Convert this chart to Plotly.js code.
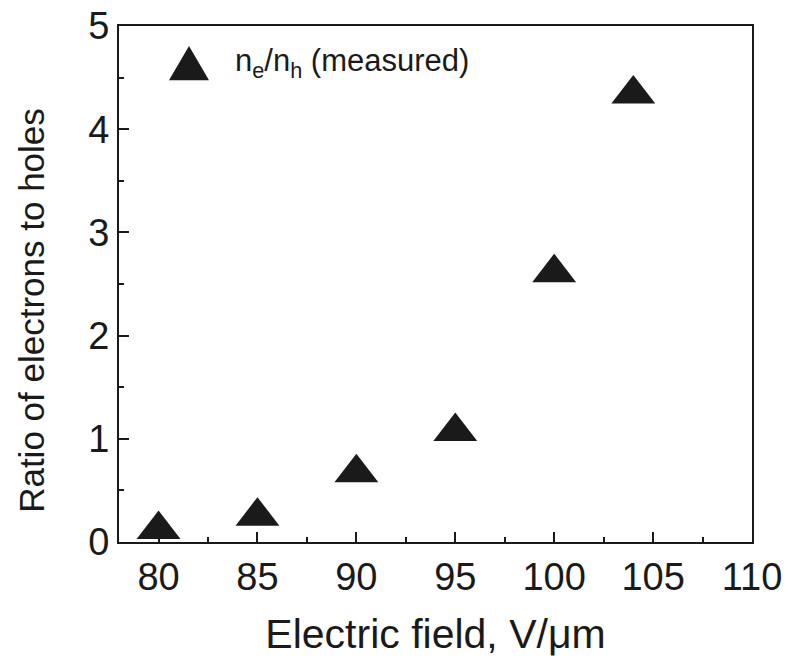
<!DOCTYPE html>
<html>
<head>
<meta charset="utf-8">
<script src="https://cdn.plot.ly/plotly-3.0.1.min.js"></script>
<style>html,body{margin:0;padding:0;background:#fff;}#chart{width:789px;height:666px;}</style>
</head>
<body>
<div id="chart"></div>
<script>
// Data
const fieldValues = [80, 85, 90, 95, 100, 104];          // Electric field, V/um
const ratioValues = [0.12, 0.25, 0.67, 1.07, 2.61, 4.34]; // n_e / n_h (measured)
const seriesName = 'n<sub>e</sub>/n<sub>h</sub> (measured)';
const xTitle = 'Electric field, V/\u03bcm';
const yTitle = 'Ratio of electrons to holes';
const xTicks = [80, 85, 90, 95, 100, 105, 110];
const yTicks = [0, 1, 2, 3, 4, 5];

const ink = '#1a1a1a';
const font = 'Liberation Sans, Arial, sans-serif';

const trace = {
  x: fieldValues,
  y: ratioValues,
  type: 'scatter',
  mode: 'markers',
  name: seriesName,
  showlegend: false,
  marker: {symbol: 'triangle-up', size: 38, color: ink, line: {width: 0}},
  cliponaxis: false
};

const axisCommon = {
  showgrid: false,
  zeroline: false,
  showline: true,
  linecolor: ink,
  linewidth: 2,
  mirror: true,
  ticks: 'inside',
  ticklen: 10,
  tickwidth: 2,
  tickcolor: ink,
  tickfont: {family: font, size: 38, color: ink},
  minor: {ticks: 'inside', ticklen: 5, tickwidth: 2, tickcolor: ink}
};

const layout = {
  width: 789,
  height: 666,
  margin: {l: 119, r: 37, t: 26, b: 124},
  paper_bgcolor: '#ffffff',
  plot_bgcolor: '#ffffff',
  showlegend: false,
  xaxis: Object.assign({}, axisCommon, {
    range: [78, 110],
    tickmode: 'array',
    tickvals: xTicks,
    ticktext: xTicks.map(String),
    minor: Object.assign({}, axisCommon.minor, {dtick: 2.5, tick0: 77.5}),
    title: {text: xTitle, font: {family: font, size: 41, color: ink}, standoff: 23}
  }),
  yaxis: Object.assign({}, axisCommon, {
    range: [0, 5],
    tickmode: 'array',
    tickvals: yTicks,
    ticktext: yTicks.map(String),
    minor: Object.assign({}, axisCommon.minor, {dtick: 0.5, tick0: 0})
  }),
  shapes: [{
    type: 'path', xref: 'paper', yref: 'paper',
    path: 'M 0.079 0.895 L 0.1422 0.895 L 0.1106 0.961 Z',
    fillcolor: ink, line: {width: 0}
  }],
  annotations: [{
    xref: 'paper', yref: 'paper', x: 0.180, y: 0.928,
    xanchor: 'left', yanchor: 'middle', showarrow: false,
    text: seriesName,
    font: {family: font, size: 31, color: ink}
  }, {
    xref: 'paper', yref: 'paper', x: -0.1374, y: 0.448,
    xanchor: 'center', yanchor: 'middle', showarrow: false,
    textangle: -90,
    text: yTitle,
    font: {family: font, size: 35, color: ink}
  }]
};

Plotly.newPlot('chart', [trace], layout, {displayModeBar: false, staticPlot: true});
</script>
</body>
</html>
